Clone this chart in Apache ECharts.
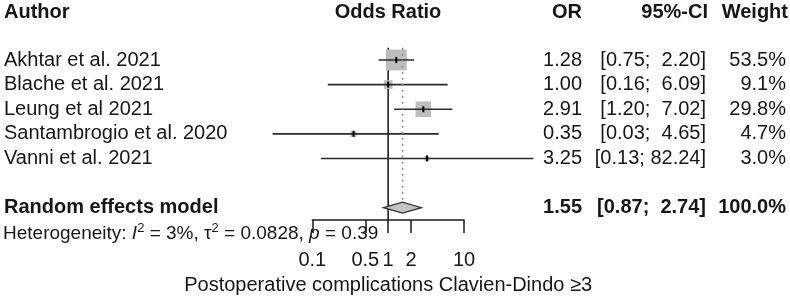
<!DOCTYPE html>
<html>
<head>
<meta charset="utf-8">
<script src="https://cdn.jsdelivr.net/npm/echarts@6/dist/echarts.min.js"></script>
<style>
html,body{margin:0;padding:0;background:#fff}
#chart{width:790px;height:298px}
</style>
</head>
<body>
<div id="chart"></div>
<script>
// studies
const authors = ['Akhtar et al. 2021', 'Blache et al. 2021', 'Leung et al 2021', 'Santambrogio et al. 2020', 'Vanni et al. 2021'];
const orValues = [1.28, 1.00, 2.91, 0.35, 3.25];
const ciLower = [0.75, 0.16, 1.20, 0.03, 0.13];
const ciUpper = [2.20, 6.09, 7.02, 4.65, 82.24];
const weights = [53.5, 9.1, 29.8, 4.7, 3.0];

// random effects model
const pooledLabel = 'Random effects model';
const pooledOR = 1.55;
const pooledLower = 0.87;
const pooledUpper = 2.74;
const pooledWeight = 100.0;
const hetI2 = '3%';
const hetTau2 = '0.0828';
const hetP = '0.39';

// axis
const xTicks = [0.1, 0.5, 1, 2, 10];
const axisTitle = 'Postoperative complications Clavien-Dindo \u22653';

const FONT = '"Liberation Sans", Arial, sans-serif';
const TXT = '#161616';
const pooledRow = authors.length + 1;

// column positions (px)
const colName = 4, colOR = 582, colCI = 706, colW = 786;

function txt(text, x, y, align, bold) {
  return {
    type: 'text',
    style: {
      text: text, x: x, y: y, align: align, verticalAlign: 'middle',
      fontSize: 20, fontFamily: FONT, fontWeight: bold ? 'bold' : 'normal', fill: TXT
    }
  };
}

// R meta 风格：上限补空格到 5 位
function ciText(lo, hi) {
  return '[' + lo.toFixed(2) + '; ' + hi.toFixed(2).padStart(5, ' ') + ']';
}

function rowTexts(name, or, lo, hi, w, y, bold) {
  return [
    txt(name, colName, y, 'left', bold),
    txt(or.toFixed(2), colOR, y, 'right', bold),
    txt(ciText(lo, hi), colCI, y, 'right', bold),
    txt(w.toFixed(1) + '%', colW, y, 'right', bold)
  ];
}

// 每个研究：置信区间线 + 方块 + 中心标记 + 表格文字
function renderStudy(params, api) {
  const i = api.value(0);
  const mid = api.coord([api.value(1), i]);
  const lo = api.coord([api.value(2), i]);
  const hi = api.coord([api.value(3), i]);
  const side = 2.85 * Math.sqrt(api.value(4));
  const k = params.dataIndex;
  return {
    type: 'group',
    children: [
      {type: 'rect', shape: {x: mid[0] - side / 2, y: mid[1] - side / 2, width: side, height: side}, style: {fill: '#bdbdbd'}},
      {type: 'line', shape: {x1: lo[0], y1: lo[1], x2: hi[0], y2: hi[1]}, style: {stroke: '#2b2b2b', lineWidth: 1.6}},
      {type: 'line', shape: {x1: mid[0], y1: mid[1] - 3, x2: mid[0], y2: mid[1] + 3}, style: {stroke: '#000', lineWidth: 2}}
    ].concat(rowTexts(authors[k], orValues[k], ciLower[k], ciUpper[k], weights[k], mid[1], false))
  };
}

// 合并效应：菱形 + 虚线
function renderPooled(params, api) {
  const r = api.value(0);
  const mid = api.coord([api.value(1), r]);
  const lo = api.coord([api.value(2), r]);
  const hi = api.coord([api.value(3), r]);
  const top = api.coord([api.value(1), -0.5]);
  const h = 5.5;
  return {
    type: 'group',
    children: [
      {type: 'line', shape: {x1: top[0], y1: top[1], x2: mid[0], y2: mid[1] - h}, style: {stroke: '#8a8a8a', lineWidth: 1.6, lineDash: [2, 4]}},
      {type: 'polygon', shape: {points: [[lo[0], mid[1]], [mid[0], mid[1] - h], [hi[0], mid[1]], [mid[0], mid[1] + h]]},
        style: {fill: '#c4c4c4', stroke: '#333', lineWidth: 1.3}}
    ].concat(rowTexts(pooledLabel, pooledOR, pooledLower, pooledUpper, pooledWeight, mid[1], true))
  };
}

// 无效线 OR = 1
function renderNull(params, api) {
  const a = api.coord([1, -0.5]);
  const b = api.coord([1, pooledRow + 0.5]);
  return {type: 'line', shape: {x1: a[0], y1: a[1], x2: b[0], y2: b[1]}, style: {stroke: '#111', lineWidth: 1.5}};
}

const studyData = authors.map((a, i) => [i, orValues[i], ciLower[i], ciUpper[i], weights[i]]);

const chart = echarts.init(document.getElementById('chart'), null, {renderer: 'canvas'});
chart.setOption({
  animation: false,
  backgroundColor: '#fff',
  grid: {left: 312.3, width: 151.7, top: 47.7, bottom: 78, outerBoundsMode: 'none', containLabel: false},
  xAxis: {
    type: 'log', logBase: 10, min: 0.1, max: 10, position: 'bottom',
    splitLine: {show: false},
    axisLine: {show: true, onZero: false, lineStyle: {color: '#1a1a1a', width: 1.5}},
    axisTick: {show: true, customValues: xTicks, length: 13, inside: false, lineStyle: {color: '#1a1a1a', width: 1.5}},
    axisLabel: {customValues: xTicks, margin: 30, fontSize: 20, fontFamily: FONT, color: TXT, formatter: v => String(v)},
    name: axisTitle, nameLocation: 'middle', nameGap: 55,
    nameTextStyle: {fontSize: 20, fontFamily: FONT, color: TXT}
  },
  yAxis: {type: 'value', min: -0.5, max: pooledRow + 0.5, inverse: true, show: false},
  graphic: [
    {type: 'text', left: 4, top: 2, style: {text: 'Author', fontSize: 20, fontWeight: 'bold', fontFamily: FONT, fill: TXT}},
    {type: 'text', x: 388, y: 12, style: {text: 'Odds Ratio', align: 'center', verticalAlign: 'middle', fontSize: 20, fontWeight: 'bold', fontFamily: FONT, fill: TXT}},
    {type: 'text', x: colOR, y: 12, style: {text: 'OR', align: 'right', verticalAlign: 'middle', fontSize: 20, fontWeight: 'bold', fontFamily: FONT, fill: TXT}},
    {type: 'text', x: 708, y: 12, style: {text: '95%-CI', align: 'right', verticalAlign: 'middle', fontSize: 20, fontWeight: 'bold', fontFamily: FONT, fill: TXT}},
    {type: 'text', x: 788, y: 12, style: {text: 'Weight', align: 'right', verticalAlign: 'middle', fontSize: 20, fontWeight: 'bold', fontFamily: FONT, fill: TXT}},
    {type: 'text', x: 3, y: 234, z: 100, style: {
      text: '{n|Heterogeneity: }{i|I}{s|2}{n| = ' + hetI2 + ', \u03c4}{s|2}{n| = ' + hetTau2 + ', }{i|p}{n| = ' + hetP + '}',
      verticalAlign: 'middle', fontFamily: FONT, fill: TXT,
      rich: {
        n: {fontSize: 19, fontFamily: FONT, fill: TXT},
        i: {fontSize: 19, fontFamily: FONT, fontStyle: 'italic', fill: TXT},
        s: {fontSize: 13, fontFamily: FONT, fill: TXT, padding: [0, 0, 12, 0]}
      }
    }}
  ],
  series: [
    {type: 'custom', clip: false, renderItem: renderNull, data: [[1, 0]], z: 1},
    {type: 'custom', clip: false, renderItem: renderStudy, data: studyData, z: 2},
    {type: 'custom', clip: false, renderItem: renderPooled, data: [[pooledRow, pooledOR, pooledLower, pooledUpper, pooledWeight]], z: 3}
  ]
});
</script>
</body>
</html>
